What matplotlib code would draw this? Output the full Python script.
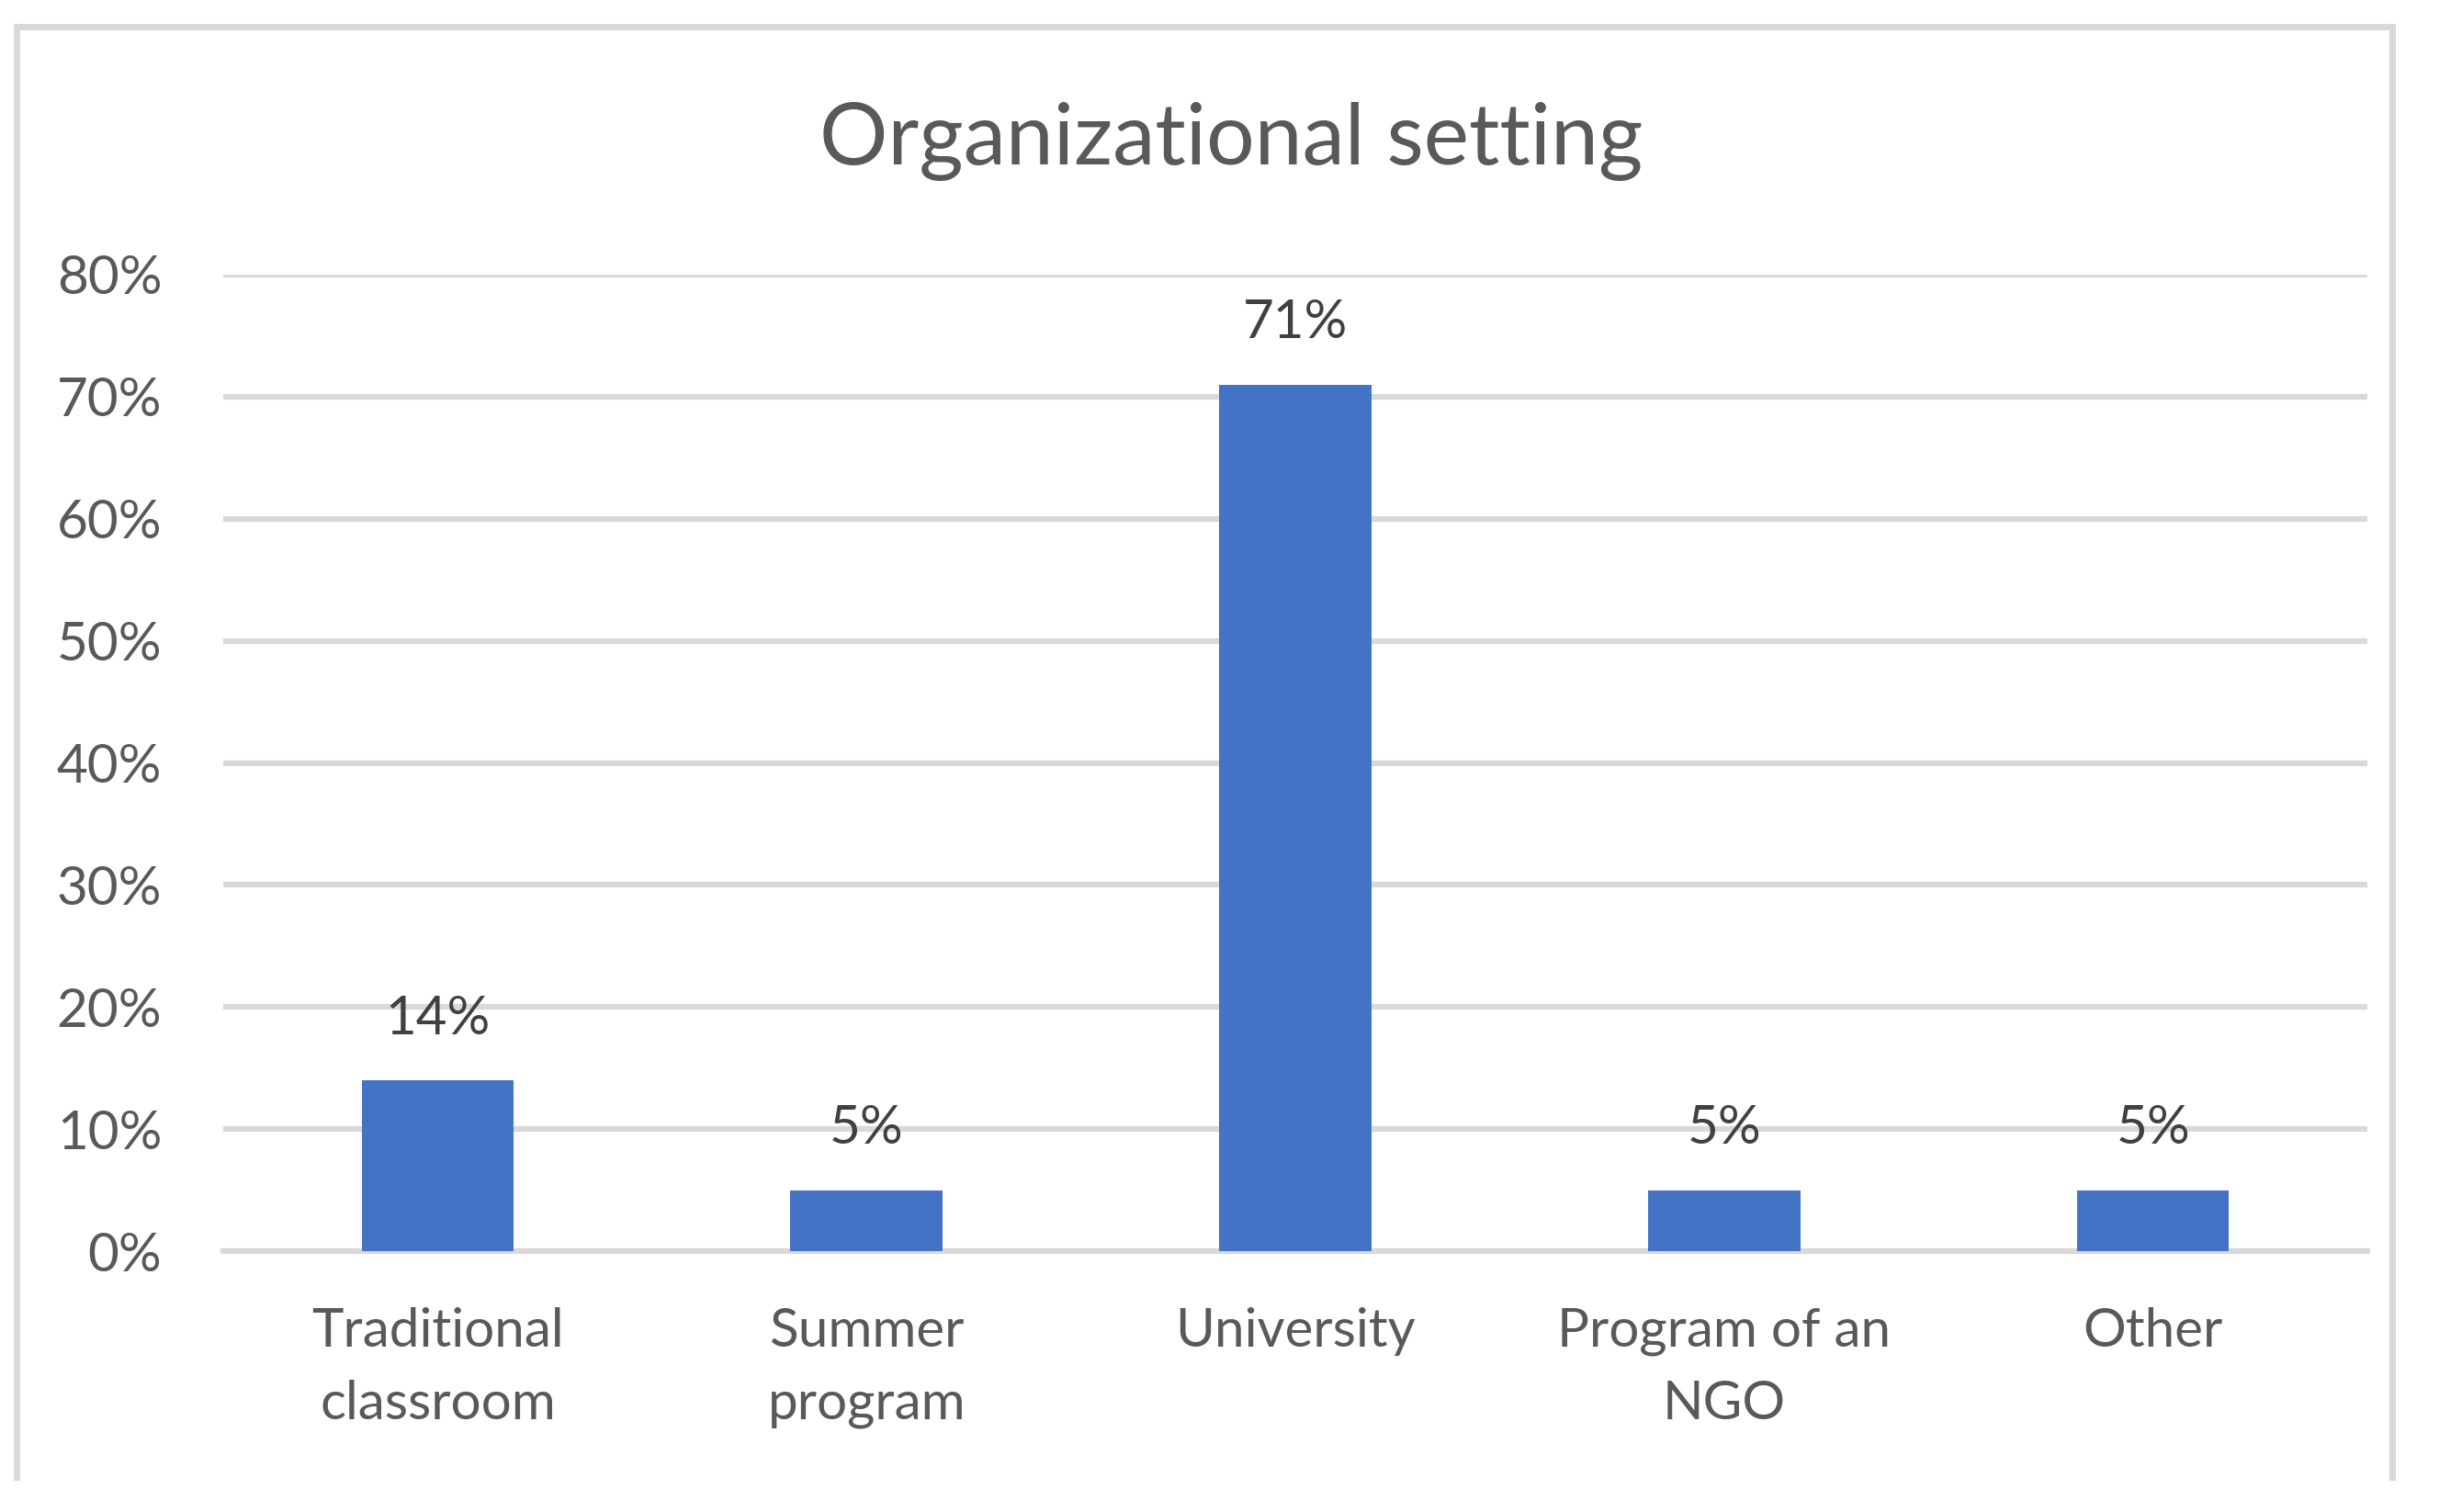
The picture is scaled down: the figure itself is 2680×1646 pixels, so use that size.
import matplotlib
matplotlib.use("Agg")
import matplotlib.pyplot as plt
from matplotlib.lines import Line2D
from matplotlib.ticker import PercentFormatter

plt.rcParams["font.family"] = ["Lato", "DejaVu Sans"]

categories = ["Traditional\nclassroom", "Summer\nprogram", "University", "Program of an\nNGO", "Other"]
shares = [0.14, 0.05, 0.71, 0.05, 0.05]
y_ticks = [0.0, 0.1, 0.2, 0.3, 0.4, 0.5, 0.6, 0.7, 0.8]

BAR_COLOR = "#4472C4"
GRID_COLOR = "#D9D9D9"
TEXT_COLOR = "#595959"
LABEL_COLOR = "#404040"

W, H = 2680, 1646
fig = plt.figure(figsize=(W / 100, H / 100), dpi=100)
fig.patch.set_facecolor("white")

# outer chart frame (bottom edge is cropped in the source)
for xs, ys in [((18, 18), (1608, 29)), ((18, 2604), (29, 29)), ((2604, 2604), (29, 1608))]:
    fig.add_artist(Line2D([x / W for x in xs], [1 - y / H for y in ys],
                          color=GRID_COLOR, linewidth=5, transform=fig.transFigure))

ax = fig.add_axes([243 / W, 1 - 1362 / H, (2577 - 243) / W, (1362 - 299) / H])
x = range(len(categories))
bars = ax.bar(x, shares, width=0.355, color=BAR_COLOR, zorder=3)

ax.set_xlim(-0.5, len(categories) - 0.5)
ax.set_ylim(0, 0.8)
ax.set_yticks(y_ticks)
ax.yaxis.set_major_formatter(PercentFormatter(1.0, decimals=0))
ax.grid(True, axis="y", color=GRID_COLOR, linewidth=4.5, zorder=0)
ax.set_axisbelow(True)
for side in ["top", "right", "left"]:
    ax.spines[side].set_visible(False)
ax.spines["bottom"].set_color(GRID_COLOR)
ax.spines["bottom"].set_linewidth(4.5)
ax.tick_params(axis="both", length=0, labelsize=42, colors=TEXT_COLOR)
ax.tick_params(axis="y", pad=48)
ax.tick_params(axis="x", pad=44)
ax.set_xticks(list(x))
ax.set_xticklabels(categories, linespacing=1.6)

for bar, v in zip(bars, shares):
    ax.annotate(f"{v * 100:.0f}%", xy=(bar.get_x() + bar.get_width() / 2, v),
                xytext=(0, 29), textcoords="offset points", ha="center", va="bottom",
                fontsize=42, color=LABEL_COLOR)

fig.text(0.5, 1 - 154 / H, "Organizational setting", ha="center", va="center",
         fontsize=67, color=TEXT_COLOR)

fig.savefig("out.png", dpi=100)
